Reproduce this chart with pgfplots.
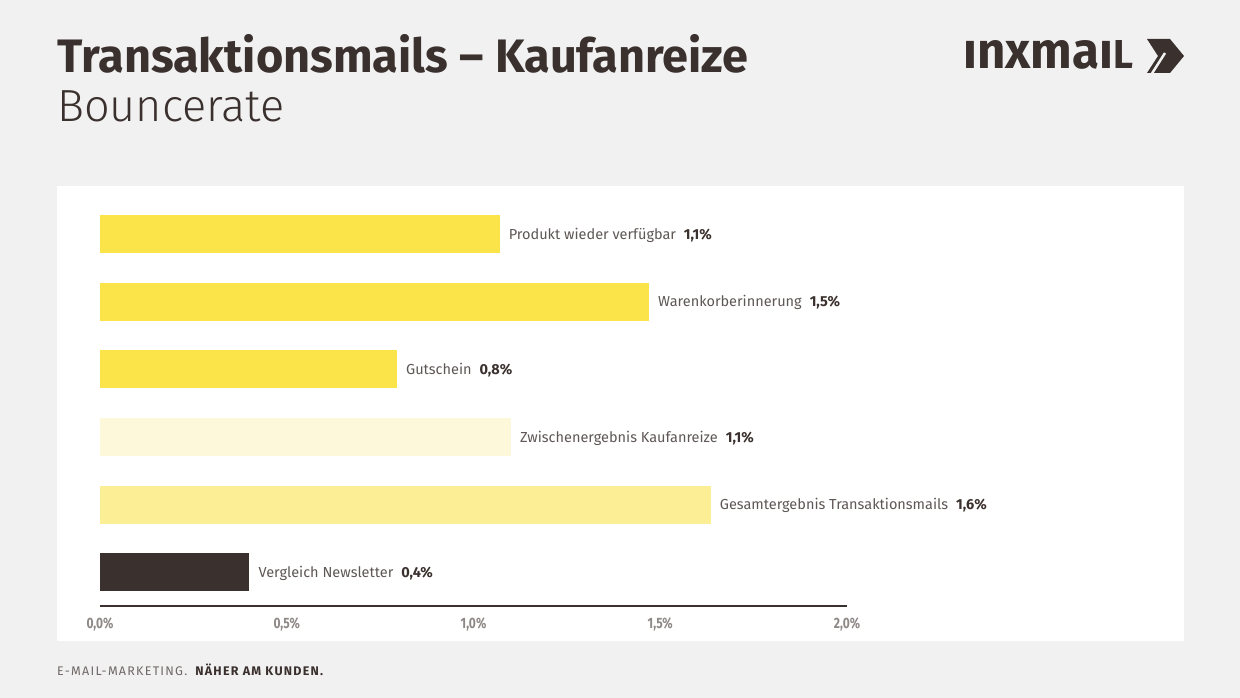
\documentclass[border=0pt]{standalone}
\usepackage{fontspec}
\setmainfont{Fira Sans}
\newfontfamily\lightfont{Fira Sans Light}
\usepackage{pgfplots}
\pgfplotsset{compat=1.18}
\definecolor{bg}{HTML}{F1F1F1}
\definecolor{dark}{HTML}{3A302D}
\definecolor{ylw}{HTML}{FBE44A}
\definecolor{pale}{HTML}{FEF8DA}
\definecolor{lite}{HTML}{FCEE94}
\definecolor{lbl}{HTML}{5E5755}
\definecolor{tck}{HTML}{8E8886}
\definecolor{foot}{HTML}{6E6866}
\begin{document}
\begin{tikzpicture}[x=1pt,y=1pt]
\path[use as bounding box] (0,0) rectangle (1240,-698);
\fill[bg] (0,0) rectangle (1240,-698);
\fill[white] (57,-186) rectangle (1184,-641);
\node[anchor=base west, inner sep=0, text=dark, font=\bfseries\fontsize{46.9}{50}\selectfont] at (57,-73) {Transaktionsmails – Kaufanreize};
\node[anchor=base west, inner sep=0, text=dark, font=\lightfont\fontsize{45}{50}\selectfont] at (57,-122) {Bouncerate};
\node[anchor=base west, inner sep=0, text=dark, font=\bfseries] at (963,-69) {\resizebox{170pt}{28pt}{\resizebox{!}{10pt}{ınxmaı}\resizebox{!}{10pt}{L}}};
\fill[dark] (1147,-39) -- (1170,-39) -- (1184,-56) -- (1170,-73) -- (1147,-73) -- (1158,-56) -- cycle;
\draw[bg, line width=2.5pt] (1151,-75) -- (1165,-53);
\node[anchor=base west, inner sep=0, text=foot, font=\fontsize{12.5}{14}\selectfont] at (57,-675) {\addfontfeatures{LetterSpace=10}E-MAIL-MARKETING.\hspace{8pt}{\bfseries\color{dark}NÄHER AM KUNDEN.}};
\begin{axis}[
  at={(100pt,-606pt)}, anchor=south west,
  scale only axis, width=747pt, height=405.6pt,
  xmin=0, xmax=2, ymin=-0.5, ymax=5.5,
  axis x line=bottom, axis y line=none,
  x axis line style={-, draw=dark, line width=1.3pt},
  xtick={0,0.5,1,1.5,2}, major tick length=0pt, ytick=\empty,
  /pgf/number format/assume math mode=true,
  xticklabel={\scalebox{0.8}[1]{\bfseries\pgfmathprintnumber[fixed,fixed zerofill,precision=1,use comma]{\tick}\%}},
  xticklabel style={anchor=center, yshift=-18pt, text=tck, font=\fontsize{15}{17}\selectfont},
  clip=false,
  xbar, bar width=38pt, bar shift=0pt,
  every axis plot/.append style={bar shift=0pt, draw=none},
  point meta=explicit symbolic,
  visualization depends on={x \as \xv},
  nodes near coords={\color{lbl}\pgfplotspointmeta\hspace{8pt}{\color{dark}\bfseries\pgfmathprintnumber[fixed,fixed zerofill,precision=1,use comma]{\xv}\%}},
  every node near coord/.style={anchor=west, font=\fontsize{14.5}{16}\selectfont, inner sep=0pt, xshift=9pt, yshift=-1pt},
]
\addplot[fill=ylw, draw=none] coordinates {(1.07,5) [Produkt wieder verfügbar]};
\addplot[fill=ylw, draw=none] coordinates {(1.47,4) [Warenkorberinnerung]};
\addplot[fill=ylw, draw=none] coordinates {(0.795,3) [Gutschein]};
\addplot[fill=pale, draw=none] coordinates {(1.10,2) [Zwischenergebnis Kaufanreize]};
\addplot[fill=lite, draw=none] coordinates {(1.635,1) [Gesamtergebnis Transaktionsmails]};
\addplot[fill=dark, draw=none] coordinates {(0.40,0) [Vergleich Newsletter]};
\end{axis}
\end{tikzpicture}
\end{document}
